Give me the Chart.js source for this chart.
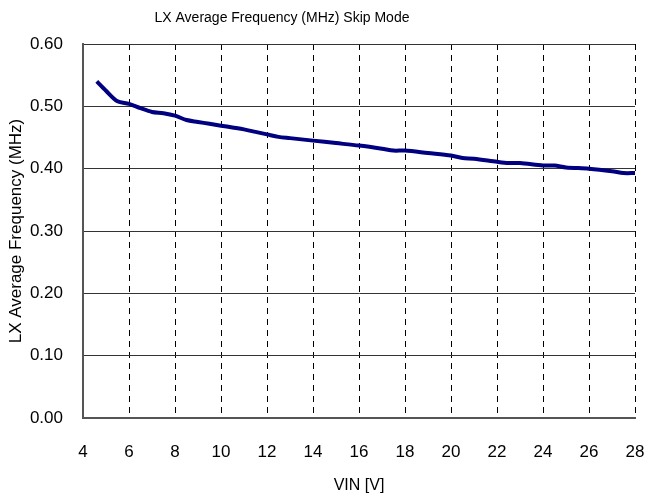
<!DOCTYPE html>
<html>
<head>
<meta charset="utf-8">
<script src="https://cdn.jsdelivr.net/npm/chart.js@4"></script>
<style>
  html, body { margin: 0; padding: 0; background: #fff; }
  #wrap { width: 645px; height: 495px; }
</style>
</head>
<body>
<div id="wrap"><canvas id="freqChart" width="645" height="495"></canvas></div>
<script>
// VIN [V] and measured LX average frequency [MHz]
const vin = [4.6, 5.0, 5.5, 6.0, 6.5, 7.0, 7.5, 8.0, 8.5, 9.0, 9.5, 10, 10.5, 11, 11.5, 12, 12.5, 13, 14, 15, 16, 17, 17.5, 18, 19, 20, 20.5, 21, 22, 22.5, 23, 24, 24.5, 25, 26, 27, 27.5, 28];
const freq = [0.540, 0.525, 0.508, 0.504, 0.497, 0.491, 0.489, 0.485, 0.478, 0.475, 0.472, 0.469, 0.466, 0.463, 0.459, 0.455, 0.451, 0.449, 0.445, 0.441, 0.437, 0.432, 0.429, 0.429, 0.425, 0.421, 0.417, 0.416, 0.411, 0.409, 0.409, 0.405, 0.405, 0.402, 0.400, 0.396, 0.393, 0.393];
const xTicks = [4, 6, 8, 10, 12, 14, 16, 18, 20, 22, 24, 26, 28];
const yTicks = [0, 0.1, 0.2, 0.3, 0.4, 0.5, 0.6];
const chartTitle = 'LX Average Frequency (MHz) Skip Mode';

const font = "'Liberation Sans', Arial, sans-serif";

// title sits a bit left of the canvas centre in the original
const titlePlugin = {
    id: 'leftTitle',
    afterDraw(chart) {
        const c = chart.ctx;
        c.save();
        c.font = '14px ' + font;
        c.fillStyle = '#000';
        c.textAlign = 'center';
        c.textBaseline = 'middle';
        c.fillText(chartTitle, 282, 18);
        c.restore();
    }
};

const ctx = document.getElementById('freqChart').getContext('2d');
new Chart(ctx, {
    type: 'line',
    data: {
        datasets: [{
            label: 'LX Average Frequency',
            data: vin.map((v, i) => ({ x: v, y: freq[i] })),
            borderColor: '#000080',
            borderWidth: 4,
            pointRadius: 0,
            tension: 0.3,
            fill: false
        }]
    },
    options: {
        responsive: false,
        animation: false,
        layout: { padding: { left: 0, right: 10, top: 44, bottom: 0 } },
        plugins: {
            legend: { display: false },
            tooltip: { enabled: false },
            title: { display: false }
        },
        scales: {
            x: {
                type: 'linear',
                min: 4,
                max: 28,
                afterBuildTicks: s => { s.ticks = xTicks.map(v => ({ value: v })); },
                afterFit: s => { s.height = 77; s.paddingLeft = 0; s.paddingRight = 0; },
                ticks: { color: '#000', font: { family: font, size: 17 }, padding: 24, maxRotation: 0 },
                grid: {
                    color: c => c.tick && c.tick.value === 4 ? 'rgba(0,0,0,0)' : '#000',
                    lineWidth: 1,
                    drawTicks: false
                },
                border: { display: true, color: '#555', width: 2, dash: [6, 5] },
                title: {
                    display: true,
                    text: 'VIN [V]',
                    color: '#000',
                    font: { family: font, size: 16 },
                    padding: { top: 6, bottom: 0 }
                }
            },
            y: {
                min: 0,
                max: 0.6,
                afterBuildTicks: s => { s.ticks = yTicks.map(v => ({ value: v })); },
                afterFit: s => { s.width = 83; s.paddingTop = 0; s.paddingBottom = 0; },
                ticks: {
                    color: '#000',
                    font: { family: font, size: 17 },
                    padding: 20,
                    callback: v => v.toFixed(2)
                },
                grid: { color: '#333', lineWidth: 1, drawTicks: false },
                border: { display: true, color: '#555', width: 2 },
                title: {
                    display: true,
                    text: 'LX Average Frequency (MHz)',
                    color: '#000',
                    font: { family: font, size: 17 },
                    padding: { top: 6, bottom: 0 }
                }
            }
        }
    },
    plugins: [titlePlugin]
});
</script>
</body>
</html>
